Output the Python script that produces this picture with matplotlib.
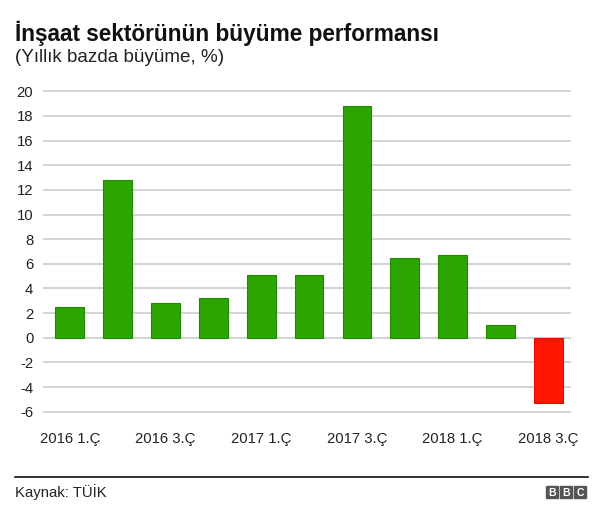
import matplotlib.pyplot as plt
from matplotlib.lines import Line2D
from matplotlib.patches import Rectangle

plt.rcParams['font.family'] = ['Liberation Sans', 'DejaVu Sans']

quarters = ['2016 1.Ç', '2016 2.Ç', '2016 3.Ç', '2016 4.Ç',
            '2017 1.Ç', '2017 2.Ç', '2017 3.Ç', '2017 4.Ç',
            '2018 1.Ç', '2018 2.Ç', '2018 3.Ç']
growth = [2.5, 12.8, 2.8, 3.2, 5.1, 5.1, 18.8, 6.5, 6.7, 1.0, -5.3]
yticks = [-6, -4, -2, 0, 2, 4, 6, 8, 10, 12, 14, 16, 18, 20]

green = '#2ca402'
red = '#ff1500'

fig = plt.figure(figsize=(6, 5.08), dpi=100)
ax = fig.add_axes([0.0717, 0.1846, 0.8803, 0.6406])

colors = [green if v >= 0 else red for v in growth]
edges = ['#238a00' if v >= 0 else '#e01000' for v in growth]
x = list(range(len(growth)))
ax.bar(x, growth, width=0.6, color=colors, edgecolor=edges, linewidth=0.8, zorder=3)

for t in yticks:
    ax.axhline(t, color='#cccccc', linewidth=1.2, zorder=1)

ax.set_xlim(-0.56, 10.48)
ax.set_ylim(-6.2, 20.2)
ax.set_yticks(yticks)
ax.set_yticklabels([str(t) for t in yticks])
ax.set_xticks(x[::2])
ax.set_xticklabels(quarters[::2])
ax.tick_params(axis='both', length=0, labelsize=10.7, colors='#222222')
ax.tick_params(axis='y', pad=7)
ax.tick_params(axis='x', pad=13)
for s in ax.spines.values():
    s.set_visible(False)

fig.text(15/600, 1-33/508, 'İnşaat sektörünün büyüme performansı',
         fontsize=16.3, fontweight='bold', va='center', ha='left', color='#111111')
fig.text(15/600, 1-57/508, '(Yıllık bazda büyüme, %)',
         fontsize=13.6, va='center', ha='left', color='#222222')

fig.add_artist(Line2D([15/600, 588/600], [1-477/508, 1-477/508],
                      color='#111111', linewidth=1.2))
fig.text(15/600, 1-492/508, 'Kaynak: TÜİK', fontsize=10.7,
         va='center', ha='left', color='#222222')

# BBC logo
for i, letter in enumerate('BBC'):
    x0 = 546 + i * 14
    fig.add_artist(Rectangle((x0/600, 1-498/508), 12/600, 12/508,
                             transform=fig.transFigure, color='#555555'))
    fig.text((x0 + 6)/600, 1-492.5/508, letter, fontsize=7.5, fontweight='bold',
             color='white', ha='center', va='center')

fig.savefig('out.png', dpi=100)
